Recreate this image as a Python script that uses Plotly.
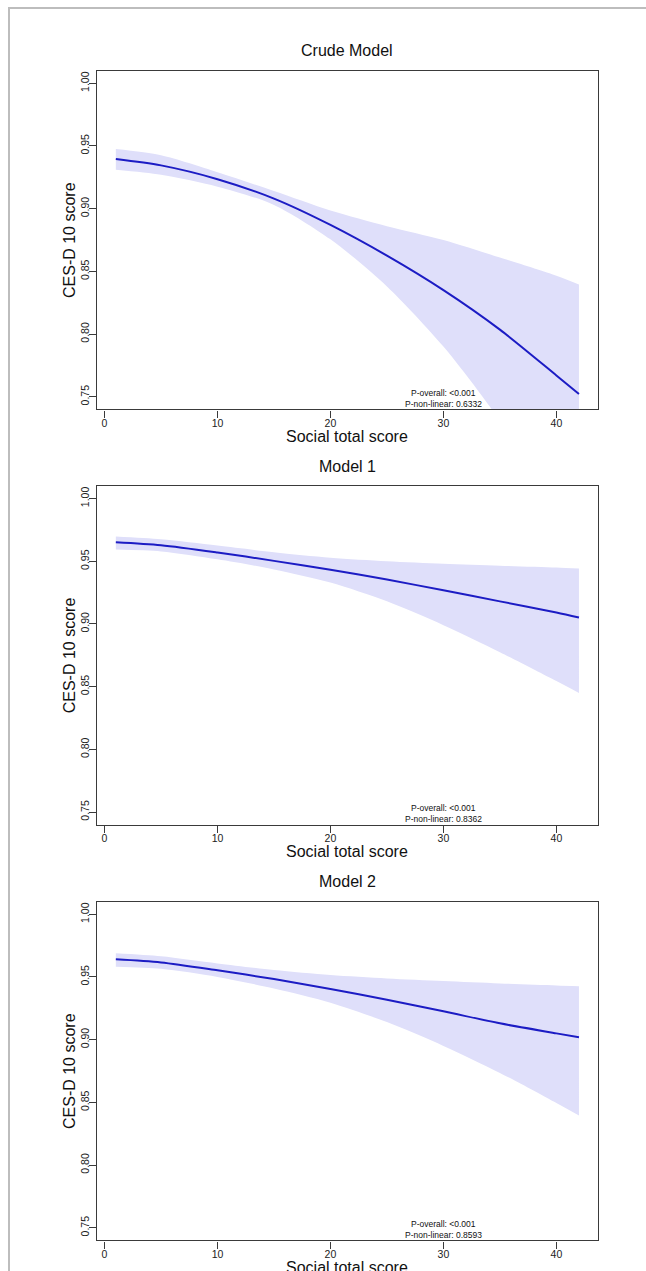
import plotly.graph_objects as go

W, H = 646, 1271

# ---------------- data ----------------
titles = ["Crude Model", "Model 1", "Model 2"]
p_overall = ["P-overall: <0.001", "P-overall: <0.001", "P-overall: <0.001"]
p_nonlin = ["P-non-linear: 0.6332", "P-non-linear: 0.8362", "P-non-linear: 0.8593"]

x_vals = [1, 5, 10, 15, 20, 25, 30, 35, 40, 42]

crude_fit   = [0.9396, 0.9345, 0.9235, 0.9080, 0.8870, 0.8625, 0.8350, 0.8035, 0.7670, 0.7522]
crude_upper = [0.9475, 0.9425, 0.9290, 0.9140, 0.8985, 0.8860, 0.8750, 0.8610, 0.8465, 0.8395]
crude_lower = [0.9310, 0.9270, 0.9175, 0.9030, 0.8755, 0.8380, 0.7900, 0.7310, 0.6620, 0.6320]

m1_fit   = [0.9652, 0.9628, 0.9570, 0.9503, 0.9432, 0.9354, 0.9268, 0.9180, 0.9092, 0.9052]
m1_upper = [0.9697, 0.9675, 0.9625, 0.9572, 0.9528, 0.9500, 0.9480, 0.9465, 0.9450, 0.9442]
m1_lower = [0.9593, 0.9578, 0.9515, 0.9435, 0.9330, 0.9180, 0.8990, 0.8775, 0.8545, 0.8450]

m2_fit   = [0.9641, 0.9616, 0.9553, 0.9483, 0.9404, 0.9318, 0.9226, 0.9130, 0.9050, 0.9020]
m2_upper = [0.9689, 0.9665, 0.9608, 0.9555, 0.9515, 0.9488, 0.9467, 0.9448, 0.9432, 0.9425]
m2_lower = [0.9582, 0.9565, 0.9500, 0.9408, 0.9295, 0.9140, 0.8950, 0.8735, 0.8495, 0.8395]

fits = [crude_fit, m1_fit, m2_fit]
uppers = [crude_upper, m1_upper, m2_upper]
lowers = [crude_lower, m1_lower, m2_lower]

x_ticks = [0, 10, 20, 30, 40]
y_ticks = [0.75, 0.80, 0.85, 0.90, 0.95, 1.00]
y_ticktext = ["0.75", "0.80", "0.85", "0.90", "0.95", "1.00"]
x_range = [-0.64, 43.64]
y_range = [0.74, 1.01]
p_text_x = 30
p_text_y = [0.7530, 0.7444]

x_title = "Social total score"
y_title = "CES-D 10 score"

# ---------------- layout geometry (pixels) ----------------
plot_left, plot_right = 97.3, 597.5
panel_tops = [70.7, 486.0, 901.7]
panel_h = 338.6

FONT = "Liberation Sans, Arial, sans-serif"
LINE_COL = "#1c1cc4"
BAND_COL = "rgb(223,223,250)"
FRAME_COL = "#3a3a3a"

fig = go.Figure()

layout_axes = {}
annotations = []
for i in range(3):
    suffix = "" if i == 0 else str(i + 1)
    xa = "x" + suffix
    ya = "y" + suffix
    fig.add_trace(go.Scatter(
        x=x_vals, y=uppers[i], mode="lines",
        line=dict(color="rgba(0,0,0,0)", width=0, shape="spline", smoothing=0.8),
        hoverinfo="skip", showlegend=False, xaxis=xa, yaxis=ya))
    fig.add_trace(go.Scatter(
        x=x_vals, y=lowers[i], mode="lines", fill="tonexty", fillcolor=BAND_COL,
        line=dict(color="rgba(0,0,0,0)", width=0, shape="spline", smoothing=0.8),
        hoverinfo="skip", showlegend=False, xaxis=xa, yaxis=ya))
    fig.add_trace(go.Scatter(
        x=x_vals, y=fits[i], mode="lines",
        line=dict(color=LINE_COL, width=2, shape="spline", smoothing=0.8),
        showlegend=False, xaxis=xa, yaxis=ya))

    top = panel_tops[i]
    bot = top + panel_h
    ydom = [1 - bot / H, 1 - top / H]
    xdom = [plot_left / W, plot_right / W]

    common = dict(showline=True, mirror=True, linecolor=FRAME_COL, linewidth=1.4,
                  ticks="outside", ticklen=7, tickwidth=1.2, tickcolor=FRAME_COL,
                  showgrid=False, zeroline=False,
                  tickfont=dict(family=FONT, size=10.5, color="#222"))
    layout_axes["xaxis" + suffix] = dict(common, domain=xdom, range=x_range,
                                         tickvals=x_ticks, anchor=ya,
                                         ticklabelstandoff=-3)
    layout_axes["yaxis" + suffix] = dict(common, domain=ydom, range=y_range,
                                         tickvals=y_ticks, ticktext=y_ticktext,
                                         tickangle=-90, anchor=xa,
                                         ticklabelstandoff=-4)

    cx = (plot_left + plot_right) / 2 / W
    annotations.append(dict(text=titles[i], x=cx, y=1 - (top - 20) / H,
                            xref="paper", yref="paper", showarrow=False,
                            xanchor="center", yanchor="middle",
                            font=dict(family=FONT, size=16, color="#111")))
    annotations.append(dict(text=x_title, x=cx, y=1 - (bot + 27) / H,
                            xref="paper", yref="paper", showarrow=False,
                            xanchor="center", yanchor="middle",
                            font=dict(family=FONT, size=16, color="#111")))
    annotations.append(dict(text=y_title, x=69 / W, y=1 - (top + panel_h / 2) / H,
                            xref="paper", yref="paper", showarrow=False,
                            textangle=-90, xanchor="center", yanchor="middle",
                            font=dict(family=FONT, size=16, color="#111")))
    annotations.append(dict(text=p_overall[i], x=p_text_x, y=p_text_y[0],
                            xref=xa, yref=ya, showarrow=False,
                            xanchor="center", yanchor="middle",
                            font=dict(family=FONT, size=8.5, color="#111")))
    annotations.append(dict(text=p_nonlin[i], x=p_text_x, y=p_text_y[1],
                            xref=xa, yref=ya, showarrow=False,
                            xanchor="center", yanchor="middle",
                            font=dict(family=FONT, size=8.5, color="#111")))

shapes = [
    dict(type="line", xref="paper", yref="paper", x0=9 / W, x1=1, y0=1 - 8 / H, y1=1 - 8 / H,
         line=dict(color="#bdbdbd", width=2), layer="above"),
    dict(type="line", xref="paper", yref="paper", x0=9 / W, x1=9 / W, y0=0, y1=1 - 7 / H,
         line=dict(color="#bdbdbd", width=2), layer="above"),
]

fig.update_layout(
    width=W, height=H,
    margin=dict(l=0, r=0, t=0, b=0),
    paper_bgcolor="white", plot_bgcolor="white",
    font=dict(family=FONT),
    annotations=annotations, shapes=shapes,
    **layout_axes)

fig.write_html("out.html", config={"displayModeBar": False},
               post_script="document.body.style.margin='0';document.body.style.overflow='hidden';")
